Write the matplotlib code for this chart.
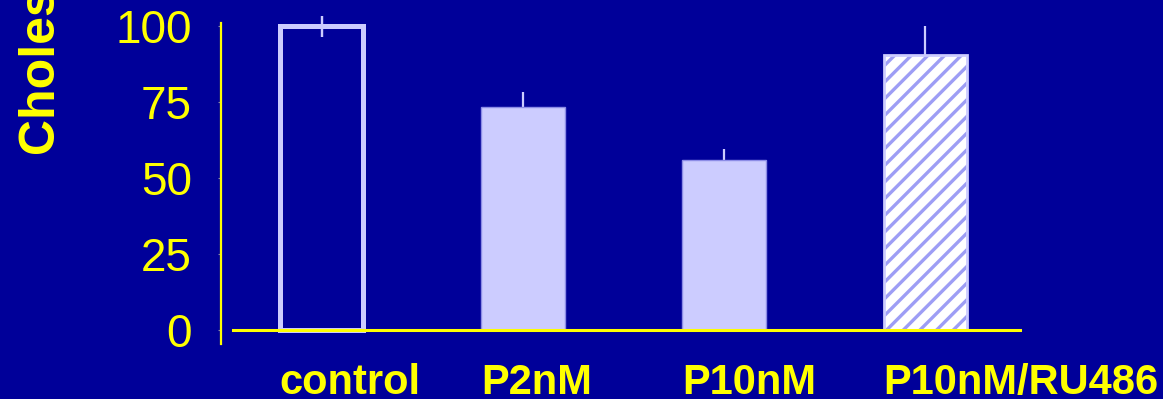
import numpy as np
import matplotlib.pyplot as plt
from matplotlib.transforms import blended_transform_factory

# data
groups = ["control", "P2nM", "P10nM", "P10nM/RU486"]
values = [100, 73.5, 56, 90.5]
errors = [3.5, 4.8, 3.6, 9.5]
y_ticks = [0, 25, 50, 75, 100]
y_label = "Cholesterol synthesis (%)"

BG = "#000099"
YELLOW = "#ffff00"
BAR = "#ccccff"

plt.rcParams["font.family"] = ["Liberation Sans", "DejaVu Sans"]
plt.rcParams["hatch.linewidth"] = 2.4

fig = plt.figure(figsize=(11.63, 3.99), dpi=100, facecolor=BG)
ax = fig.add_axes([0.190, 0.138, 0.687, 0.849], facecolor=BG)

x = np.arange(len(groups))
width = 0.415

# error bars sit behind the bars
ax.errorbar(x, values, yerr=errors, fmt="none", ecolor=BAR, elinewidth=1.6,
            capsize=0, zorder=1, clip_on=False)

# control: outline only
ax.bar(x[0], values[0], width, facecolor="none", edgecolor=BAR, linewidth=3.6, zorder=2)
# two plain filled bars
ax.bar(x[1:3], values[1:3], width, facecolor=BAR, edgecolor="#8c8ce6", linewidth=1.0, zorder=2)
# hatched bar
ax.bar(x[3], values[3], width, facecolor="white", edgecolor="#9d9df5", linewidth=0,
       hatch="//", zorder=2)
ax.bar(x[3], values[3], width, facecolor="none", edgecolor=BAR, linewidth=2.0, zorder=3)

# control error bar also shows on top of the outline
ax.errorbar(x[:1], values[:1], yerr=errors[:1], fmt="none", ecolor=BAR, elinewidth=1.6,
            capsize=0, zorder=4, clip_on=False)

ax.set_xlim(-0.5, 3.47)
ax.set_ylim(-4.6, 106.9)

for side in ["top", "right"]:
    ax.spines[side].set_visible(False)
ax.spines["left"].set_color(YELLOW)
ax.spines["left"].set_linewidth(1.6)
ax.spines["left"].set_bounds(-4.6, 101)
ax.spines["bottom"].set_color(YELLOW)
ax.spines["bottom"].set_linewidth(2.2)
ax.spines["bottom"].set_position(("data", 0))
ax.spines["bottom"].set_bounds(-0.44, 3.47)
ax.spines["bottom"].set_zorder(5)

ax.set_yticks(y_ticks)
ax.set_yticklabels([str(t) for t in y_ticks])
ax.tick_params(axis="y", colors="#8080b0", labelcolor=YELLOW, labelsize=33,
               length=2, width=0.8, pad=19)
for lbl in ax.get_yticklabels():
    lbl.set_va("center_baseline")
ax.set_xticks([])

# group labels, left aligned to bar edges
trans = blended_transform_factory(ax.transData, fig.transFigure)
for xi, name in zip(x, groups):
    ax.text(xi - width / 2, 0.0125, name, transform=trans, ha="left", va="baseline",
            fontsize=30, fontweight="bold", color=YELLOW, clip_on=False)

fig.text(0.036, 0.612, y_label, rotation=90, rotation_mode="anchor",
         ha="left", va="center", fontsize=36, fontweight="bold", color=YELLOW)

fig.savefig("out.png", dpi=100, facecolor=BG)
